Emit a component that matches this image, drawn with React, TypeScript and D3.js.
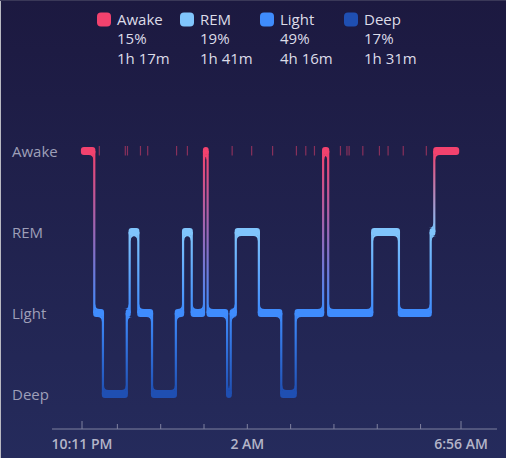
import { useRef, useEffect } from 'react'
import * as d3 from 'd3'

// stages, top to bottom
const stages = ['Awake', 'REM', 'Light', 'Deep']
const stageColors = ['#f2426e', '#80c5fc', '#3f8cfd', '#1f4fb2']
const legendPercent = ['15%', '19%', '49%', '17%']
const legendDuration = ['1h 17m', '1h 41m', '4h 16m', '1h 31m']

// sleep segments (start time + stage)
const segStart = [
  '22:11', '22:28', '22:40', '23:13', '23:17', '23:29', '23:48', '00:21',
  '00:31', '00:43', '01:00', '01:05', '01:32', '01:37', '01:44', '02:16',
  '02:47', '03:07', '03:45', '03:52', '04:53', '05:30', '06:14', '06:19',
]
const segStage = [
  'Awake', 'Light', 'Deep', 'Light', 'REM', 'Light', 'Deep', 'Light',
  'REM', 'Light', 'Awake', 'Light', 'Deep', 'Light', 'REM', 'Light',
  'Deep', 'Light', 'Awake', 'Light', 'REM', 'Light', 'REM', 'Awake',
]
const segEnd = '06:52'

// short awakenings shown as small ticks
const shortWakes = [
  '22:35', '23:11', '23:14', '23:32', '23:42', '00:22', '00:37', '01:39',
  '02:06', '02:35', '03:08', '03:21', '03:33', '04:09', '04:18', '04:21',
  '04:40', '05:03', '05:15', '05:36', '06:08',
]

const sleepStart = '22:11'
const sleepStop = '06:56'
const labelTimes = ['22:11', '02:00', '06:56']

const parse = d3.timeParse('%H:%M')
const toDate = (s: string) => {
  const d = parse(s) as Date
  if (d.getHours() < 12) d.setDate(d.getDate() + 1)
  return d
}

const width = 506
const height = 458

const App = () => {
  const svgRef = useRef<SVGSVGElement>(null)

  useEffect(() => {
    if (!svgRef.current) return
    d3.select(svgRef.current).selectAll('*').remove()

    const svg = d3.select(svgRef.current)
      .attr('width', width)
      .attr('height', height)
      .style('font-family', '"Open Sans", "Noto Sans", sans-serif')

    const defs = svg.append('defs')
    const bg = defs.append('linearGradient')
      .attr('id', 'bg')
      .attr('x1', 0).attr('y1', 0).attr('x2', 0).attr('y2', 1)
    bg.append('stop').attr('offset', '0%').attr('stop-color', '#1c1940')
    bg.append('stop').attr('offset', '100%').attr('stop-color', '#252b5c')

    svg.append('rect')
      .attr('width', width)
      .attr('height', height)
      .attr('fill', 'url(#bg)')
    // thin screenshot edges
    svg.append('rect').attr('width', 1).attr('height', height).attr('fill', '#b9b9c2')
    svg.append('rect').attr('width', width).attr('height', 1).attr('fill', '#3a3858')

    const xScale = d3.scaleTime()
      .domain([toDate(sleepStart), toDate(sleepStop)])
      .range([82, 461])

    const yScale = d3.scalePoint<string>()
      .domain(stages)
      .range([151, 394])

    const color = d3.scaleOrdinal<string, string>().domain(stages).range(stageColors)

    // legend
    const legend = svg.append('g')
    const legendX = [97, 180, 260, 344]
    stages.forEach((s, i) => {
      const g = legend.append('g').attr('transform', `translate(${legendX[i]},0)`)
      g.append('rect')
        .attr('x', 0).attr('y', 12.5)
        .attr('width', 14).attr('height', 14)
        .attr('rx', 4)
        .attr('fill', color(s))
      const lines = [s, legendPercent[i], legendDuration[i]]
      lines.forEach((t, j) => {
        g.append('text')
          .attr('x', 20)
          .attr('y', 24.5 + j * 19.5)
          .attr('fill', '#dcdce8')
          .style('font-size', '15px')
          .text(t)
      })
    })

    // y labels
    svg.append('g')
      .selectAll('text')
      .data(stages)
      .join('text')
      .attr('x', 12)
      .attr('y', (d) => (yScale(d) as number) + 5.5)
      .attr('fill', '#9e9fb8')
      .style('font-size', '15px')
      .text((d) => d)

    // x axis
    const axisY = 429
    const axis = svg.append('g')
    axis.append('line')
      .attr('x1', 52).attr('x2', 497)
      .attr('y1', axisY).attr('y2', axisY)
      .attr('stroke', '#7f819f')
      .attr('stroke-width', 1)
    const hours = d3.timeHour.range(toDate(sleepStart), toDate(sleepStop))
    axis.selectAll('.minor')
      .data(hours)
      .join('line')
      .attr('class', 'minor')
      .attr('x1', (d) => xScale(d)).attr('x2', (d) => xScale(d))
      .attr('y1', axisY - 5).attr('y2', axisY)
      .attr('stroke', '#7f819f')
    axis.selectAll('.major')
      .data([toDate(sleepStart), toDate(sleepStop)])
      .join('line')
      .attr('class', 'major')
      .attr('x1', (d) => xScale(d)).attr('x2', (d) => xScale(d))
      .attr('y1', axisY - 8).attr('y2', axisY)
      .attr('stroke', '#7f819f')
    const fmtFull = d3.timeFormat('%-I:%M %p')
    const fmtHour = d3.timeFormat('%-I %p')
    axis.selectAll('.lbl')
      .data(labelTimes.map(toDate))
      .join('text')
      .attr('class', 'lbl')
      .attr('x', (d) => xScale(d))
      .attr('y', 449)
      .attr('text-anchor', 'middle')
      .attr('fill', '#b4b5c8')
      .style('font-size', '14px')
      .style('font-weight', 600)
      .text((d) => (d.getMinutes() === 0 ? fmtHour(d) : fmtFull(d)))

    // short awakenings
    svg.append('g')
      .selectAll('line')
      .data(shortWakes.map(toDate))
      .join('line')
      .attr('x1', (d) => xScale(d)).attr('x2', (d) => xScale(d))
      .attr('y1', 146).attr('y2', 155.5)
      .attr('stroke', stageColors[0])
      .attr('stroke-opacity', 0.5)
      .attr('stroke-width', 1.2)

    // segments
    const segs = segStart.map((s, i) => ({
      stage: segStage[i],
      x0: xScale(toDate(s)),
      x1: xScale(toDate(i < segStart.length - 1 ? segStart[i + 1] : segEnd)),
    }))

    const plot = svg.append('g')
    const hw = 1.1
    const barH = 8
    const fillet = 4.5

    // vertical transitions with a colour gradient
    segs.slice(1).forEach((seg, i) => {
      const prev = segs[i]
      const yA = yScale(prev.stage) as number
      const yB = yScale(seg.stage) as number
      const id = `tr${i}`
      const grad = defs.append('linearGradient')
        .attr('id', id)
        .attr('gradientUnits', 'userSpaceOnUse')
        .attr('x1', 0).attr('x2', 0)
        .attr('y1', yA).attr('y2', yB)
      grad.append('stop').attr('offset', '0%').attr('stop-color', color(prev.stage))
      grad.append('stop').attr('offset', '100%').attr('stop-color', color(seg.stage))
      plot.append('rect')
        .attr('x', seg.x0 - hw)
        .attr('y', Math.min(yA, yB))
        .attr('width', hw * 2)
        .attr('height', Math.abs(yB - yA))
        .attr('fill', `url(#${id})`)
    })

    // horizontal bars
    segs.forEach((seg, i) => {
      const y = yScale(seg.stage) as number
      const yt = y - barH / 2
      const yb = y + barH / 2
      plot.append('rect')
        .attr('x', seg.x0 - hw)
        .attr('y', yt)
        .attr('width', seg.x1 - seg.x0 + hw * 2)
        .attr('height', barH)
        .attr('rx', 3)
        .attr('fill', color(seg.stage))

      const corner = (cx: number, cy: number, sx: number, sy: number) => {
        const p = d3.path()
        p.moveTo(cx, cy + sy * fillet)
        p.quadraticCurveTo(cx, cy, cx + sx * fillet, cy)
        p.lineTo(cx - sx * 0.5, cy)
        p.lineTo(cx - sx * 0.5, cy + sy * fillet)
        p.closePath()
        plot.append('path').attr('d', p.toString()).attr('fill', color(seg.stage))
      }
      if (i > 0) {
        const yp = yScale(segs[i - 1].stage) as number
        if (yp < y) corner(seg.x0 + hw, yt, 1, -1)
        else corner(seg.x0 + hw, yb, 1, 1)
      }
      if (i < segs.length - 1) {
        const yn = yScale(segs[i + 1].stage) as number
        if (yn < y) corner(seg.x1 - hw, yt, -1, -1)
        else corner(seg.x1 - hw, yb, -1, 1)
      }
    })
  }, [])

  return (
    <div style={{ position: 'fixed', left: 0, top: 0 }}>
      <svg ref={svgRef} style={{ display: 'block' }} />
    </div>
  )
}

export default App
